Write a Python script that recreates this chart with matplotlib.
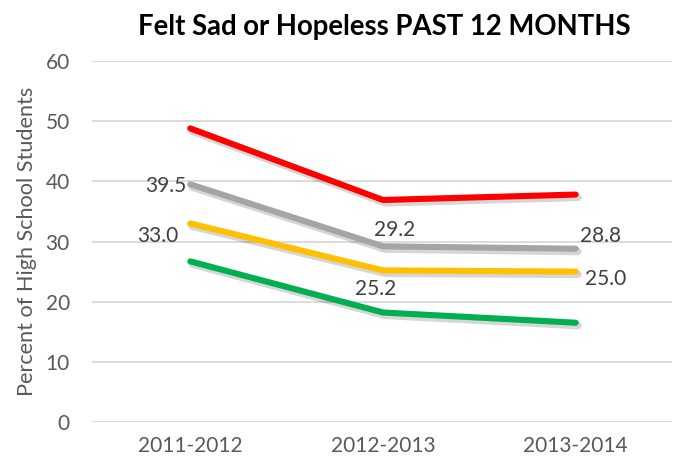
import matplotlib
matplotlib.use("Agg")
import matplotlib.pyplot as plt
import matplotlib.patheffects as pe

categories = ["2011-2012", "2012-2013", "2013-2014"]
red_vals = [48.8, 36.9, 37.8]
gray_vals = [39.5, 29.2, 28.8]
yellow_vals = [33.0, 25.2, 25.0]
green_vals = [26.7, 18.2, 16.5]
yticks = [0, 10, 20, 30, 40, 50, 60]

plt.rcParams['font.family'] = ['Lato', 'DejaVu Sans']

fig = plt.figure(figsize=(6.74, 4.66), dpi=100)
ax = fig.add_axes([92/674, 1-422/466, (672-92)/674, (422-61)/466])

x = list(range(len(categories)))
shadow = [pe.SimpleLineShadow(offset=(1.5, -2), shadow_color='black', alpha=0.16, linewidth=5.5), pe.Normal()]
for vals, col in [(red_vals, '#FF0000'), (gray_vals, '#A5A5A5'),
                  (yellow_vals, '#FFC000'), (green_vals, '#00B050')]:
    ax.plot(x, vals, color=col, lw=4.4, solid_capstyle='round', solid_joinstyle='round',
            path_effects=shadow, zorder=3)

txt_kw = dict(textcoords='offset pixels', fontsize=15, color='#404040', zorder=4)
# gray labels
ax.annotate(f"{gray_vals[0]:.1f}", (0, gray_vals[0]), xytext=(-4, -2), ha='right', va='center', **txt_kw)
ax.annotate(f"{gray_vals[1]:.1f}", (1, gray_vals[1]), xytext=(12, 16), ha='center', va='center', **txt_kw)
ax.annotate(f"{gray_vals[2]:.1f}", (2, gray_vals[2]), xytext=(25, 13), ha='center', va='center', **txt_kw)
# yellow labels
ax.annotate(f"{yellow_vals[0]:.1f}", (0, yellow_vals[0]), xytext=(-12, -13), ha='right', va='center', **txt_kw)
ax.annotate(f"{yellow_vals[1]:.1f}", (1, yellow_vals[1]), xytext=(-7, -19), ha='center', va='center', **txt_kw)
ax.annotate(f"{yellow_vals[2]:.1f}", (2, yellow_vals[2]), xytext=(30, -7), ha='center', va='center', **txt_kw)

ax.set_xlim(-0.51, 2.5)
ax.set_ylim(0, 60)
ax.set_yticks(yticks)
ax.set_xticks(x)
ax.set_xticklabels(categories)
ax.grid(axis='y', color='#D9D9D9', lw=1.3, zorder=0)
ax.set_axisbelow(True)
for s in ax.spines.values():
    s.set_visible(False)
ax.tick_params(axis='both', length=0, labelsize=15, colors='#595959')
ax.tick_params(axis='y', pad=16)
ax.tick_params(axis='x', pad=10)
ax.set_ylabel("Percent of High School Students", fontsize=15.6, color='#595959')
ax.yaxis.set_label_coords((37-92)/580, 0.5)
fig.text(384/674, 1-27/466, "Felt Sad or Hopeless PAST 12 MONTHS", ha='center', va='center',
         fontsize=19.8, fontweight='bold', color='black')

fig.savefig("out.png", dpi=100)
